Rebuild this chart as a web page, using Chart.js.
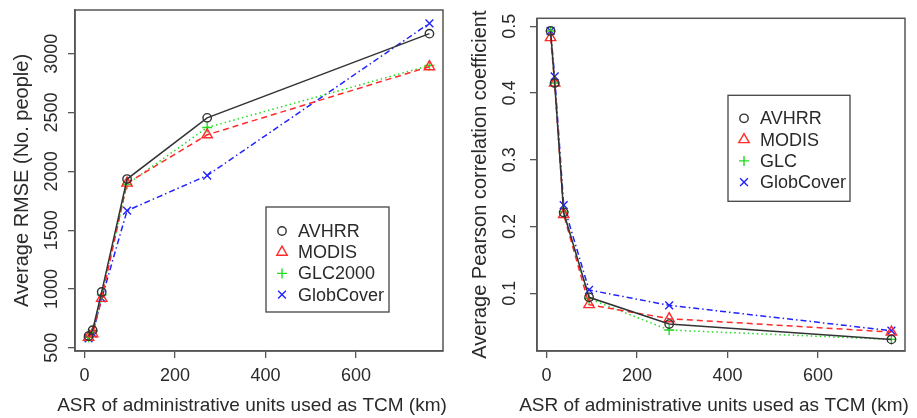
<!DOCTYPE html>
<html>
<head>
<meta charset="utf-8">
<script src="https://cdn.jsdelivr.net/npm/chart.js@4/dist/chart.umd.min.js"></script>
<style>
  body { margin: 0; background: #fff; }
  #wrap { position: relative; width: 917px; height: 418px; }
  .panel { position: absolute; top: 0; height: 418px; }
  #left { left: 0; width: 458px; }
  #right { left: 458px; width: 459px; }
</style>
</head>
<body>
<div id="wrap">
  <div class="panel" id="left"><canvas id="rmseChart" width="458" height="418"></canvas></div>
  <div class="panel" id="right"><canvas id="pearsonChart" width="459" height="418"></canvas></div>
</div>
<script>
// ASR (km) of each administrative level
const asrKm = [9, 18, 38, 94, 271, 762];
const xTicks = [0, 200, 400, 600];

// left panel: average RMSE
const rmseAvhrr = [600, 650, 975, 1935, 2455, 3171];
const rmseModis = [590, 620, 920, 1900, 2311, 2890];
const rmseGlc = [590, 640, 950, 1890, 2373, 2900];
const rmseGlob = [580, 620, 920, 1666, 1965, 3259];
const rmseTicks = [500, 1000, 1500, 2000, 2500, 3000];

// right panel: average Pearson r
const rAvhrr = [0.493, 0.415, 0.221, 0.094, 0.054, 0.031];
const rModis = [0.483, 0.415, 0.218, 0.083, 0.062, 0.042];
const rGlc = [0.493, 0.415, 0.222, 0.092, 0.045, 0.031];
const rGlob = [0.493, 0.425, 0.232, 0.105, 0.082, 0.044];
const rTicks = [0.1, 0.2, 0.3, 0.4, 0.5];

const leftLabels = ['AVHRR', 'MODIS', 'GLC2000', 'GlobCover'];
const rightLabels = ['AVHRR', 'MODIS', 'GLC', 'GlobCover'];
const xTitle = 'ASR of administrative units used as TCM (km)';

const FAMILY = "'Liberation Sans', Arial, Helvetica, sans-serif";
const AXIS_COL = '#555';
const TEXT_COL = '#2a2a2a';

const styles = [
  { color: '#333333', dash: [], pointStyle: 'circle', radius: 4.2 },
  { color: '#ff2a2a', dash: [6, 4], pointStyle: 'triangle', radius: 6 },
  { color: '#22dd22', dash: [1.5, 3], pointStyle: 'cross', radius: 5 },
  { color: '#2222ff', dash: [1.5, 3, 6, 3], pointStyle: 'crossRot', radius: 5.5 }
];

function makeDatasets(series, labels) {
  return series.map((vals, i) => ({
    label: labels[i],
    data: vals.map((v, j) => ({ x: asrKm[j], y: v })),
    borderColor: styles[i].color,
    backgroundColor: 'transparent',
    borderWidth: 1.5,
    borderDash: styles[i].dash,
    pointStyle: styles[i].pointStyle,
    pointRadius: styles[i].radius,
    pointBorderColor: styles[i].color,
    pointBackgroundColor: 'transparent',
    pointBorderWidth: 1.4,
    tension: 0,
    fill: false
  }));
}

// box round the plot, legend inside it, and the x title (wider than the plot, so not the axis title)
const boxPlugin = {
  id: 'rbox',
  afterDatasetsDraw(chart, args, opts) {
    const { ctx, chartArea: a } = chart;
    ctx.save();
    ctx.strokeStyle = AXIS_COL;
    ctx.lineWidth = 1.5;
    ctx.setLineDash([]);
    ctx.strokeRect(a.left, a.top, a.right - a.left, a.bottom - a.top);
    const lg = opts.legend;
    ctx.strokeStyle = '#444';
    ctx.lineWidth = 1.3;
    ctx.strokeRect(a.left + lg.x, a.top + lg.y, lg.w, lg.h);
    ctx.font = '18px ' + FAMILY;
    ctx.textBaseline = 'middle';
    ctx.textAlign = 'left';
    chart.data.datasets.forEach((ds, i) => {
      const y = a.top + lg.y + lg.first + i * lg.step;
      const sx = a.left + lg.x + 16;
      ctx.strokeStyle = styles[i].color;
      ctx.fillStyle = 'transparent';
      ctx.lineWidth = 1.4;
      Chart.helpers.drawPoint(ctx, { pointStyle: styles[i].pointStyle, radius: styles[i].radius, borderWidth: 1.4, rotation: 0 }, sx, y);
      ctx.fillStyle = TEXT_COL;
      ctx.fillText(ds.label, a.left + lg.x + lg.tx, y + 1);
    });
    ctx.font = '19px ' + FAMILY;
    ctx.textAlign = 'center';
    ctx.fillStyle = TEXT_COL;
    ctx.fillText(xTitle, (a.left + a.right) / 2 - 7, a.bottom + 55);
    ctx.restore();
  }
};

function buildChart(id, series, labels, yCfg) {
  const ctx = document.getElementById(id);
  const tickFont = { family: FAMILY, size: 18 };
  const titleFont = { family: FAMILY, size: 20, lineHeight: 1.2 };
  return new Chart(ctx, {
    type: 'line',
    data: { datasets: makeDatasets(series, labels) },
    plugins: [boxPlugin],
    options: {
      responsive: false,
      animation: false,
      layout: { padding: { top: 10, right: yCfg.padRight, left: 0, bottom: 0 } },
      plugins: {
        legend: { display: false },
        tooltip: { enabled: false },
        rbox: { legend: yCfg.legend }
      },
      scales: {
        x: {
          type: 'linear',
          min: -21,
          max: 792,
          afterBuildTicks: s => { s.ticks = xTicks.map(v => ({ value: v })); },
          afterFit: s => { s.height = 67; },
          grid: { display: true, drawOnChartArea: false, drawTicks: true, tickLength: 7, color: AXIS_COL, lineWidth: 1.3 },
          border: { display: true, color: AXIS_COL, width: 1.5 },
          ticks: { font: tickFont, color: TEXT_COL, padding: 7, maxRotation: 0 },
          title: { display: false }
        },
        y: {
          type: 'linear',
          min: yCfg.min,
          max: yCfg.max,
          afterBuildTicks: s => { s.ticks = yCfg.ticks.map(v => ({ value: v })); },
          afterFit: s => { s.width = yCfg.axisWidth; },
          grid: { display: true, drawOnChartArea: false, drawTicks: true, tickLength: 7, color: AXIS_COL, lineWidth: 1.3 },
          border: { display: true, color: AXIS_COL, width: 1.5 },
          ticks: { font: tickFont, color: TEXT_COL, minRotation: 90, maxRotation: 90, crossAlign: 'center', padding: yCfg.tickPad, callback: v => String(v) },
          title: { display: true, text: yCfg.title, font: titleFont, color: TEXT_COL, padding: { top: 10, bottom: 0 } }
        }
      }
    }
  });
}

buildChart('rmseChart', [rmseAvhrr, rmseModis, rmseGlc, rmseGlob], leftLabels, {
  min: 473, max: 3372, ticks: rmseTicks, axisWidth: 75, padRight: 15, tickPad: -4,
  title: 'Average RMSE (No. people)',
  legend: { x: 191, y: 197, w: 123, h: 105, first: 24, step: 21.2, tx: 32 }
});

buildChart('pearsonChart', [rAvhrr, rModis, rGlc, rGlob], rightLabels, {
  min: 0.0136, max: 0.512, ticks: rTicks, axisWidth: 79, padRight: 12, tickPad: 7.5,
  title: 'Average Pearson correlation coefficient',
  legend: { x: 191, y: 77, w: 122, h: 106, first: 23, step: 21.3, tx: 32 }
});
</script>
</body>
</html>
